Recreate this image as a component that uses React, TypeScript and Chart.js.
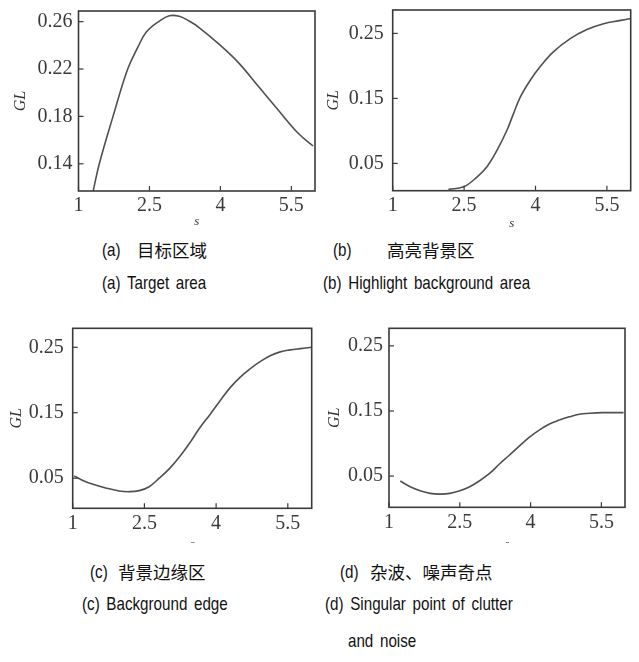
import React, { useEffect, useRef } from "react";
import { Chart, registerables } from "chart.js";
Chart.register(...registerables);

// ---- data ----
const xTicks = [1, 2.5, 4, 5.5];

const yTicksA = [0.14, 0.18, 0.22, 0.26];
const sA = [1.3, 1.44, 1.73, 2.04, 2.25, 2.43, 2.71, 2.92, 3.13, 3.34, 3.55, 3.97, 4.39, 4.81, 5.23, 5.65, 5.96];
const glA = [0.115, 0.14, 0.18, 0.22, 0.238, 0.251, 0.2605, 0.265, 0.2645, 0.2605, 0.255, 0.241, 0.225, 0.205, 0.185, 0.1655, 0.155];

const yTicksB = [0.05, 0.15, 0.25];
const sB = [2.17, 2.49, 2.77, 2.98, 3.19, 3.4, 3.54, 3.68, 3.89, 4.1, 4.38, 4.73, 5.08, 5.43, 5.79, 6.0];
const glB = [0.01, 0.014, 0.029, 0.045, 0.07, 0.101, 0.127, 0.152, 0.178, 0.199, 0.222, 0.242, 0.256, 0.265, 0.27, 0.273];

const yTicksC = [0.05, 0.15, 0.25];
const sC = [1.03, 1.2, 1.41, 1.69, 1.97, 2.18, 2.39, 2.6, 2.81, 3.03, 3.24, 3.45, 3.66, 3.87, 4.08, 4.29, 4.5, 4.71, 4.92, 5.13, 5.34, 5.55, 5.76, 6.0];
const glC = [0.0535, 0.047, 0.041, 0.035, 0.0305, 0.0294, 0.031, 0.037, 0.05, 0.065, 0.083, 0.104, 0.127, 0.147, 0.168, 0.188, 0.204, 0.217, 0.228, 0.237, 0.243, 0.246, 0.248, 0.25];

const yTicksD = [0.05, 0.15, 0.25];
const sD = [1.24, 1.45, 1.66, 1.87, 2.08, 2.29, 2.5, 2.71, 2.92, 3.13, 3.34, 3.55, 3.76, 3.97, 4.19, 4.4, 4.61, 4.82, 5.03, 5.24, 5.52, 5.97];
const glD = [0.0423, 0.0336, 0.0274, 0.0234, 0.0223, 0.0234, 0.0274, 0.0336, 0.0428, 0.054, 0.0685, 0.082, 0.096, 0.1095, 0.121, 0.13, 0.136, 0.141, 0.145, 0.1464, 0.1474, 0.1474];

// caption pieces: latin pieces are drawn condensed, CJK pieces at normal width
const latinCaptions = [
  { text: "(a)", left: 102, cy: 250 },
  { text: "(a) Target area", left: 102, cy: 283 },
  { text: "(b)", left: 333, cy: 250 },
  { text: "(b) Highlight background area", left: 323, cy: 283 },
  { text: "(c)", left: 90, cy: 572 },
  { text: "(c) Background edge", left: 82, cy: 604 },
  { text: "(d)", left: 340, cy: 572 },
  { text: "(d) Singular point of clutter", left: 325, cy: 604 },
  { text: "and noise", left: 348, cy: 641 },
];
const cjkCaptions = [
  { text: "目标区域", left: 137, cy: 250 },
  { text: "高亮背景区", left: 387, cy: 250 },
  { text: "背景边缘区", left: 118, cy: 572 },
  { text: "杂波、噪声奇点", left: 370, cy: 572 },
];

// ---- layout ----
const panels = [
  { s: sA, gl: glA, yTicks: yTicksA, ymin: 0.117, ymax: 0.269, left: 0, top: 0, w: 320, h: 230, padTop: 11, padRight: 5, yW: 78.5, xH: 39, glPad: 11, sPad: 1, tickPad: 6 },
  { s: sB, gl: glB, yTicks: yTicksB, ymin: 0.008, ymax: 0.286, left: 320, top: 0, w: 319, h: 230, padTop: 10, padRight: 8.3, yW: 72.7, xH: 39.3, glPad: 4, sPad: -1, tickPad: 9 },
  { s: sC, gl: glC, yTicks: yTicksC, ymin: 0.004, ymax: 0.279, left: 0, top: 320, w: 320, h: 223, padTop: 8.3, padRight: 8.3, yW: 72.7, xH: 34.7, glPad: 7, sPad: -9, tickPad: 9 },
  { s: sD, gl: glD, yTicks: yTicksD, ymin: 0.002, ymax: 0.277, left: 320, top: 320, w: 319, h: 223, padTop: 8.3, padRight: 14, yW: 69, xH: 35.7, glPad: 5, sPad: -9, tickPad: 6 },
];

const SERIF = "'Liberation Serif', 'Times New Roman', serif";
const SANS = "'Liberation Sans', Arial, sans-serif";
const CJK = "'Noto Sans CJK SC', sans-serif";

const framePlugin = {
  id: "frame",
  afterDraw(chart: any) {
    const { ctx, chartArea: a, scales } = chart;
    ctx.save();
    ctx.strokeStyle = "#3a3a3a";
    ctx.lineWidth = 1.6;
    ctx.strokeRect(a.left, a.top, a.right - a.left, a.bottom - a.top);
    ctx.lineWidth = 1.2;
    for (const t of scales.y.ticks) {
      const y = scales.y.getPixelForValue(t.value);
      ctx.beginPath();
      ctx.moveTo(a.left, y);
      ctx.lineTo(a.left + 5, y);
      ctx.stroke();
    }
    for (const t of scales.x.ticks) {
      const x = scales.x.getPixelForValue(t.value);
      ctx.beginPath();
      ctx.moveTo(x, a.bottom);
      ctx.lineTo(x, a.bottom - 5);
      ctx.stroke();
    }
    ctx.restore();
  },
};

function Panel({ p }: { p: any }) {
  const ref = useRef<HTMLCanvasElement>(null);
  useEffect(() => {
    const chart = new Chart(ref.current as HTMLCanvasElement, {
      type: "line",
      data: {
        datasets: [
          {
            data: p.s.map((x: number, i: number) => ({ x, y: p.gl[i] })),
            borderColor: "#505050",
            borderWidth: 1.6,
            pointRadius: 0,
            tension: 0.4,
            fill: false,
          },
        ],
      },
      options: {
        animation: false,
        responsive: false,
        devicePixelRatio: 1,
        layout: { padding: { top: p.padTop, right: p.padRight, left: 0, bottom: 0 } },
        plugins: { legend: { display: false }, tooltip: { enabled: false } },
        scales: {
          x: {
            type: "linear",
            min: 1,
            max: 6,
            grid: { display: false, drawTicks: false },
            border: { display: false },
            afterBuildTicks: (s: any) => {
              s.ticks = xTicks.map((v) => ({ value: v }));
            },
            afterFit: (s: any) => {
              s.height = p.xH;
              s.paddingLeft = 0;
              s.paddingRight = 0;
            },
            ticks: {
              font: { family: SERIF, size: 20 },
              color: "#3a3a3a",
              padding: 3,
              maxRotation: 0,
              autoSkip: false,
              callback: (v: any) => String(v),
            },
            title: {
              display: true,
              text: "s",
              color: "#333",
              font: { family: SERIF, size: 13, style: "italic" },
              padding: { top: 0, bottom: p.sPad },
            },
          },
          y: {
            type: "linear",
            min: p.ymin,
            max: p.ymax,
            grid: { display: false, drawTicks: false },
            border: { display: false },
            afterBuildTicks: (s: any) => {
              s.ticks = p.yTicks.map((v: number) => ({ value: v }));
            },
            afterFit: (s: any) => {
              s.width = p.yW;
              s.paddingTop = 0;
              s.paddingBottom = 0;
            },
            ticks: {
              font: { family: SERIF, size: 20 },
              color: "#3a3a3a",
              padding: p.tickPad,
              autoSkip: false,
              callback: (v: any) => Number(v).toFixed(2),
            },
            title: {
              display: true,
              text: "GL",
              color: "#333",
              font: { family: SERIF, size: 16, style: "italic" },
              padding: { top: p.glPad, bottom: 0 },
            },
          },
        },
      },
      plugins: [framePlugin],
    } as any);
    return () => chart.destroy();
  }, []);
  return (
    <canvas
      ref={ref}
      width={p.w}
      height={p.h}
      style={{ position: "absolute", left: p.left, top: p.top, width: p.w, height: p.h }}
    />
  );
}

export default function App() {
  return (
    <div style={{ position: "absolute", left: 0, top: 0, width: 639, height: 662, background: "#fff", overflow: "hidden" }}>
      {panels.map((p, i) => (
        <Panel key={i} p={p} />
      ))}
      {latinCaptions.map((c, i) => (
        <div
          key={"l" + i}
          style={{
            position: "absolute",
            left: c.left,
            top: c.cy - 12,
            height: 24,
            lineHeight: "24px",
            fontFamily: SANS,
            fontSize: 18.5,
            wordSpacing: 3,
            color: "#111",
            whiteSpace: "nowrap",
            transform: "scaleX(0.82)",
            transformOrigin: "left center",
          }}
        >
          {c.text}
        </div>
      ))}
      {cjkCaptions.map((c, i) => (
        <div
          key={"k" + i}
          style={{
            position: "absolute",
            left: c.left,
            top: c.cy - 12,
            height: 24,
            lineHeight: "24px",
            fontFamily: CJK,
            fontSize: 17.5,
            color: "#111",
            whiteSpace: "nowrap",
          }}
        >
          {c.text}
        </div>
      ))}
    </div>
  );
}
